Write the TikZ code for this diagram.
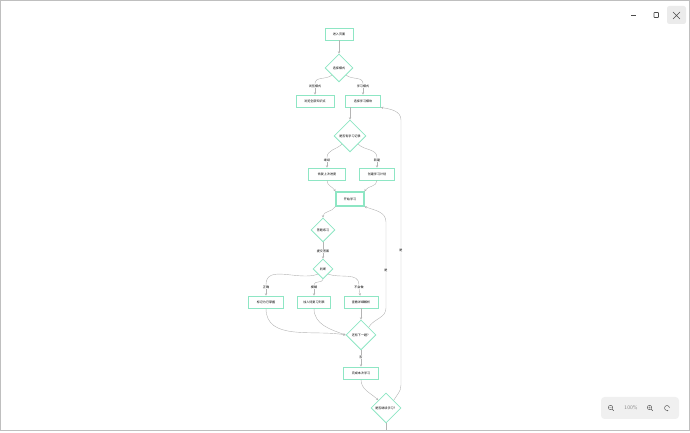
\documentclass[tikz,border=0pt]{standalone}
\usepackage{fontspec}
\newfontfamily\cjk{Noto Sans CJK SC}
\usepackage{xcolor}
\usetikzlibrary{arrows.meta,positioning,shapes.geometric}
\definecolor{mint}{HTML}{8EE6C4}
\definecolor{linegray}{HTML}{B4B4B4}

\begin{document}
\begin{tikzpicture}[x=0.03cm,y=0.03cm,font=\cjk\fontsize{2.6}{3}\selectfont,
  box/.style={draw=mint,line width=0.7pt,fill=white,inner sep=0pt,minimum height=12*0.03cm,minimum width=#1*0.03cm},
  cond/.style={diamond,aspect=1,draw=mint,line width=0.7pt,fill=white,inner sep=0pt,minimum size=#1*0.03cm},
  lbl/.style={fill=white,inner sep=0.6pt},
  wire/.style={draw=linegray,line width=0.35pt},
  flow/.style={wire,-{Stealth[length=2pt,width=2pt]}}]
\useasboundingbox (0,0) rectangle (690,-433);
% window frame and buttons
\draw[black!25,line width=0.4pt] (0.3,-0.3) rectangle (689.7,-430);
\draw[black!70,line width=0.5pt] (631,-15) -- (636,-15);
\draw[black!70,line width=0.5pt,rounded corners=0.5] (654,-12.5) rectangle (658.5,-17.5);
\fill[black!8,rounded corners=2] (667,-6) rectangle (686,-24);
\draw[black!70,line width=0.5pt] (673,-12) -- (680,-19) (680,-12) -- (673,-19);
% zoom bar
\fill[black!6,rounded corners=3] (601,-397) rectangle (679,-419);
\draw[black!65,line width=0.4pt] (610.5,-407.5) circle (2.2) (612.1,-409.1) -- (613.8,-410.8) (609.3,-407.5) -- (611.7,-407.5);
\draw[black!65,line width=0.4pt] (649.5,-407.5) circle (2.2) (651.1,-409.1) -- (652.8,-410.8) (648.3,-407.5) -- (650.7,-407.5) (649.5,-406.3) -- (649.5,-408.7);
\draw[black!65,line width=0.4pt,-{Stealth[length=1pt,width=1.2pt]}] (669.5,-408) arc (0:300:2.5);
\node[font=\sffamily\fontsize{4.5}{5}\selectfont,text=black!45] (zoomlevel) at (631,-408) {100\%};

% nodes
\node[box=28] (start) at (339,-34) {进入页面};
\node[cond=28] (mode) at (339,-68) {选择模式};
\node[box=38] (browse) at (315,-101) {浏览全部知识点};
\node[box=35] (pick) at (363,-101) {选择学习模块};
\node[cond=32] (hist) at (350,-136) {是否有学习记录};
\node[box=37] (resume) at (327,-174) {恢复上次进度};
\node[box=35] (plan) at (377,-174) {创建学习计划};
\node[box=28,minimum height=14*0.03cm,line width=1pt] (learn) at (350,-199) {开始学习};
\node[cond=24] (quiz) at (323,-230) {答题练习};
\node[cond=20] (judge) at (323,-269) {判断};
\node[box=35] (master) at (266,-302) {标记为已掌握};
\node[box=33] (review) at (314,-302) {加入待复习列表};
\node[box=34] (explain) at (361,-302) {查看详细解析};
\node[cond=30] (next) at (361,-335) {还有下一题？};
\node[box=35] (finish) at (361,-373) {完成本次学习};
\node[cond=30] (again) at (386,-408) {是否继续学习？};

% edge labels
\node[lbl] (lbrowse) at (315,-86) {浏览模式};
\node[lbl] (lstudy) at (363,-86) {学习模式};
\node[lbl] (lresume) at (327,-160) {继续};
\node[lbl] (lplan) at (377,-160) {新建};
\node[lbl] (lsubmit) at (323,-251) {提交答案};
\node[lbl] (lright) at (266,-287) {正确};
\node[lbl] (lvague) at (314,-287) {模糊};
\node[lbl] (lwrong) at (359,-287) {不会做};
\node[lbl] (lno) at (361,-357) {否};
\node[lbl] (lnext) at (386,-270) {是};
\node[lbl] (lagain) at (401,-250) {是};
\coordinate (c1) at (386,-308);
\coordinate (c2) at (386,-222);
\coordinate (c3) at (401,-385);
\coordinate (c4) at (401,-120);
\coordinate (offpage) at (386,-430);

% connectors
\draw[flow] (start) -- (mode);
\draw[wire] (mode.south west) to[out=-140,in=90] (lbrowse);
\draw[flow] (lbrowse) -- (browse);
\draw[wire] (mode.south east) to[out=-40,in=90] (lstudy);
\draw[flow] (lstudy) -- (pick);
\draw[flow] (hist.north |- pick.south) -- (hist);
\draw[wire] (hist.south west) to[out=-135,in=90] (lresume);
\draw[flow] (lresume) -- (resume);
\draw[wire] (hist.south east) to[out=-45,in=90] (lplan);
\draw[flow] (lplan) -- (plan);
\draw[flow] (resume.south) to[out=-90,in=120] (learn.north west);
\draw[flow] (plan.south) to[out=-90,in=60] (learn.north east);
\draw[flow] (learn.south west) to[out=-120,in=90] (quiz.north);
\draw[wire] (quiz) -- (lsubmit);
\draw[flow] (lsubmit) -- (judge);
\draw[wire] (judge.south west) to[out=-160,in=90] (lright);
\draw[wire] (judge.south) to[out=-100,in=90] (lvague);
\draw[wire] (judge.south east) to[out=-20,in=90] (lwrong);
\draw[flow] (lright) -- (master);
\draw[flow] (lvague) -- (review);
\draw[flow] (lwrong) -- (explain);
\draw[flow] (master.south) to[out=-90,in=170] (next.west);
\draw[flow] (review.south) to[out=-90,in=160] (next.west);
\draw[flow] (explain) -- (next);
\draw[wire] (next.north east) to[out=60,in=-90] (c1) -- (lnext);
\draw[flow] (lnext) -- (c2) to[out=90,in=-20] (learn.south east);
\draw[wire] (next) -- (lno);
\draw[flow] (lno) -- (finish);
\draw[flow] (finish.south) to[out=-90,in=135] (again.north west);
\draw[wire] (again.north east) to[out=60,in=-90] (c3) -- (lagain);
\draw[flow] (lagain) -- (c4) to[out=90,in=-10] (pick.south east);
\draw[wire] (again) -- (offpage);
\end{tikzpicture}
\end{document}
